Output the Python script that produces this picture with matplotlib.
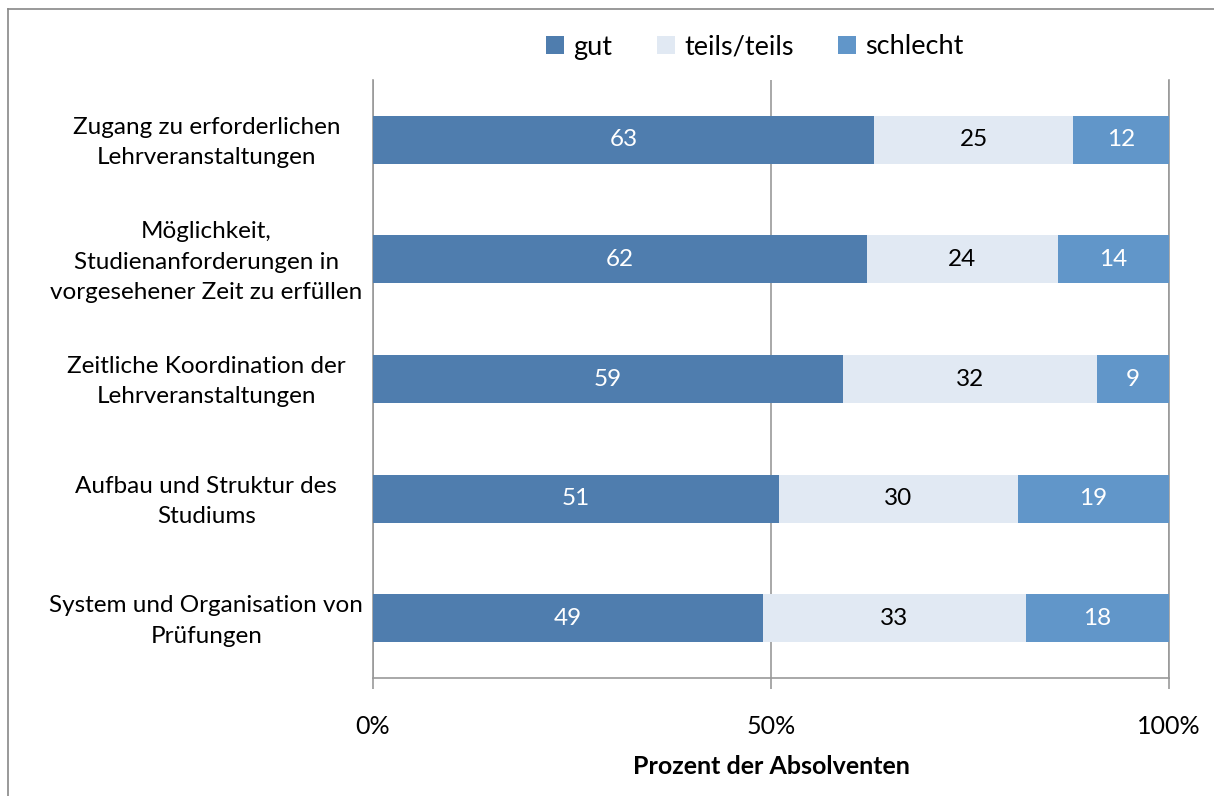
import matplotlib
matplotlib.use("Agg")
import matplotlib.pyplot as plt
import matplotlib.transforms as mtransforms
from matplotlib.lines import Line2D

plt.rcParams['font.family'] = ['Lato', 'DejaVu Sans']

categories = [
    "Zugang zu erforderlichen\nLehrveranstaltungen",
    "Möglichkeit,\nStudienanforderungen in\nvorgesehener Zeit zu erfüllen",
    "Zeitliche Koordination der\nLehrveranstaltungen",
    "Aufbau und Struktur des\nStudiums",
    "System und Organisation von\nPrüfungen",
]
gut = [63, 62, 59, 51, 49]
teils = [25, 24, 32, 30, 33]
schlecht = [12, 14, 9, 19, 18]
series_names = ["gut", "teils/teils", "schlecht"]
colors = ["#4F7DAE", "#E1E9F3", "#6196C9"]
text_colors = ["white", "black", "white"]
xticks = [0, 50, 100]
xticklabels = ["0%", "50%", "100%"]

fig = plt.figure(figsize=(12.14, 7.96), dpi=100)
ax = fig.add_axes([373/1214, 1-678/796, (1169-373)/1214, (678-80)/796])

y = list(range(len(categories)))
left = [0]*len(categories)
for vals, name, c, tc in zip([gut, teils, schlecht], series_names, colors, text_colors):
    ax.barh(y, vals, left=left, height=0.4, color=c, label=name, zorder=3)
    for yi, v, l in zip(y, vals, left):
        ax.text(l + v/2, yi, str(v), ha='center', va='center', color=tc, fontsize=17.5, zorder=4)
    left = [a+b for a, b in zip(left, vals)]

ax.set_xlim(0, 100)
ax.set_ylim(4.5, -0.5)
ax.set_yticks(y)
ax.set_yticklabels(categories, fontsize=17.5, ha='center', linespacing=1.55)
ax.tick_params(axis='y', length=0, pad=120)
shift = mtransforms.ScaledTranslation(0, 4/100, fig.dpi_scale_trans)
for lab in ax.get_yticklabels():
    lab.set_transform(lab.get_transform() + shift)
ax.set_xticks(xticks)
ax.set_xticklabels(xticklabels, fontsize=18)
ax.tick_params(axis='x', length=8, width=1.2, color='#999999', pad=19, direction='out')
ax.xaxis.grid(True, color='#999999', linewidth=1.2, zorder=0)
ax.set_axisbelow(True)
ax.spines['top'].set_visible(False)
for s in ['left', 'bottom', 'right']:
    ax.spines[s].set_color('#999999')
    ax.spines[s].set_linewidth(1.2)
ax.set_xlabel("Prozent der Absolventen", fontsize=18, fontweight='bold', labelpad=12)

fig.legend(loc='center', bbox_to_anchor=(755/1214, 1-47/796), ncol=3, frameon=False,
           fontsize=19.5, handlelength=0.65, handleheight=0.65, handletextpad=0.35, columnspacing=1.65)

# figure border (top and left)
fig.add_artist(Line2D([8/1214, 1], [1-9/796, 1-9/796], color='#888888', linewidth=1.2, transform=fig.transFigure))
fig.add_artist(Line2D([8/1214, 8/1214], [0, 1-9/796], color='#888888', linewidth=1.2, transform=fig.transFigure))

fig.savefig("out.png", dpi=100)
